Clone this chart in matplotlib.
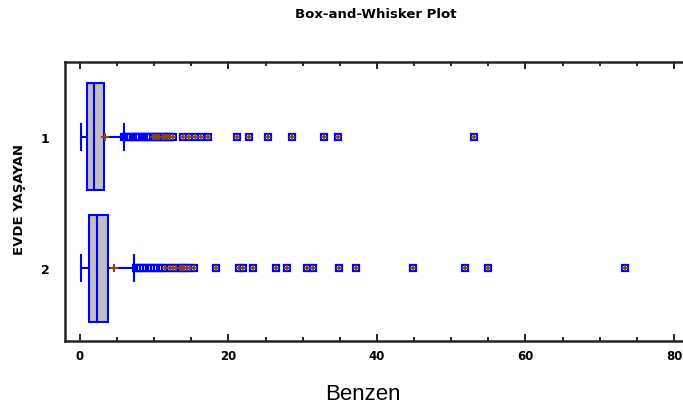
"""Box-and-whisker plot: Benzen by EVDE YAŞAYAN"""

import matplotlib
import matplotlib.pyplot as plt
from matplotlib.ticker import MultipleLocator

matplotlib.use("Agg")

# group labels and positions on the category axis
groups = ["1", "2"]
positions = [1, 2]

# five-number summaries
whisker_low = [0.15, 0.15]
q1 = [0.99, 1.17]
median = [1.9, 2.3]
q3 = [3.22, 3.75]
whisker_high = [5.9, 7.35]
mean = [3.4, 4.55]

# outside points (1.5-3 IQR) and far outside points (> 3 IQR)
outside_1 = [6.0, 6.2, 6.5, 6.8, 7.1, 7.4, 7.7, 8.0, 8.3, 8.6, 8.9, 9.2, 9.5]
far_1 = [9.8, 10.1, 10.4, 10.7, 11.0, 11.3, 11.6, 11.9, 12.2, 12.6,
         13.9, 14.7, 15.5, 16.3, 17.2, 21.1, 22.8, 25.3, 28.5, 32.9, 34.7, 53.1]
outside_2 = [7.5, 7.8, 8.1, 8.5, 8.9, 9.3, 9.6, 10.0, 10.4, 10.8, 11.1]
far_2 = [11.5, 12.1, 12.5, 13.0, 13.5, 13.7, 14.0, 14.4, 14.8, 15.3,
         18.3, 21.4, 21.9, 23.3, 26.4, 27.9, 30.6, 31.4, 34.9, 37.2,
         44.8, 51.8, 55.0, 73.4]
outside = [outside_1, outside_2]
far_outside = [far_1, far_2]

BLUE = "#0000FF"
BROWN = "#8B4513"
GRAY = "#C0C0C0"
BOX_H = 0.81
CAP_H = 0.2

fig = plt.figure(figsize=(6.83, 4.14), dpi=100)
# right spine sits just outside the picture, as in the original
ax = fig.add_axes([0.0952, 0.1746, 0.946, 0.674])

for i, y in enumerate(positions):
    # box
    ax.add_patch(plt.Rectangle((q1[i], y - BOX_H / 2), q3[i] - q1[i], BOX_H,
                               facecolor=GRAY, edgecolor=BLUE, linewidth=1.5, zorder=2))
    ax.plot([median[i], median[i]], [y - BOX_H / 2, y + BOX_H / 2],
            color=BLUE, linewidth=1.5, zorder=3)
    # whiskers + caps
    ax.plot([whisker_low[i], q1[i]], [y, y], color=BLUE, linewidth=1.5, zorder=2)
    ax.plot([q3[i], whisker_high[i]], [y, y], color=BLUE, linewidth=1.5, zorder=2)
    for w in (whisker_low[i], whisker_high[i]):
        ax.plot([w, w], [y - CAP_H / 2, y + CAP_H / 2], color=BLUE, linewidth=1.5, zorder=2)
    # mean
    ax.plot(mean[i], y, marker="+", color=BROWN, markersize=6, mew=1.5, zorder=4)
    # outliers
    ax.plot(outside[i], [y] * len(outside[i]), linestyle="none", marker="s",
            markersize=4.5, mfc="white", mec=BLUE, mew=1.6, zorder=4)
    ax.plot(far_outside[i], [y] * len(far_outside[i]), linestyle="none", marker="s",
            markersize=4.5, mfc="white", mec=BLUE, mew=1.6, zorder=4)
    ax.plot(far_outside[i], [y] * len(far_outside[i]), linestyle="none", marker="+",
            markersize=5, color=BROWN, mew=1.3, zorder=5)

ax.set_xlim(-2, 85)
ax.set_ylim(2.55, 0.43)
ax.set_yticks(positions)
ax.set_yticklabels(groups, fontsize=9, fontweight="bold")
ax.xaxis.set_major_locator(MultipleLocator(20))
ax.xaxis.set_minor_locator(MultipleLocator(5))
ax.tick_params(axis="x", which="both", direction="in", top=True, labelsize=8.5, pad=6)
ax.tick_params(axis="x", which="major", length=5, width=1.2)
ax.tick_params(axis="x", which="minor", length=3, width=1.2)
ax.tick_params(axis="y", length=0, pad=11)
for lbl in ax.get_xticklabels():
    lbl.set_fontweight("bold")
for sp in ax.spines.values():
    sp.set_linewidth(1.8)
    sp.set_color("#222222")

fig.text(376 / 683, 1 - 14 / 414, "Box-and-Whisker Plot", ha="center", va="center",
         fontsize=9.5, fontweight="bold", family="DejaVu Sans")
fig.text(20 / 683, 1 - 200 / 414, "EVDE YAŞAYAN", ha="center", va="center",
         rotation=90, fontsize=9.5, fontweight="bold", family="DejaVu Sans")
fig.text(363 / 683, 1 - 395 / 414, "Benzen", ha="center", va="center",
         fontsize=16, family="Liberation Sans")

fig.savefig("out.png", dpi=100)
plt.close(fig)
